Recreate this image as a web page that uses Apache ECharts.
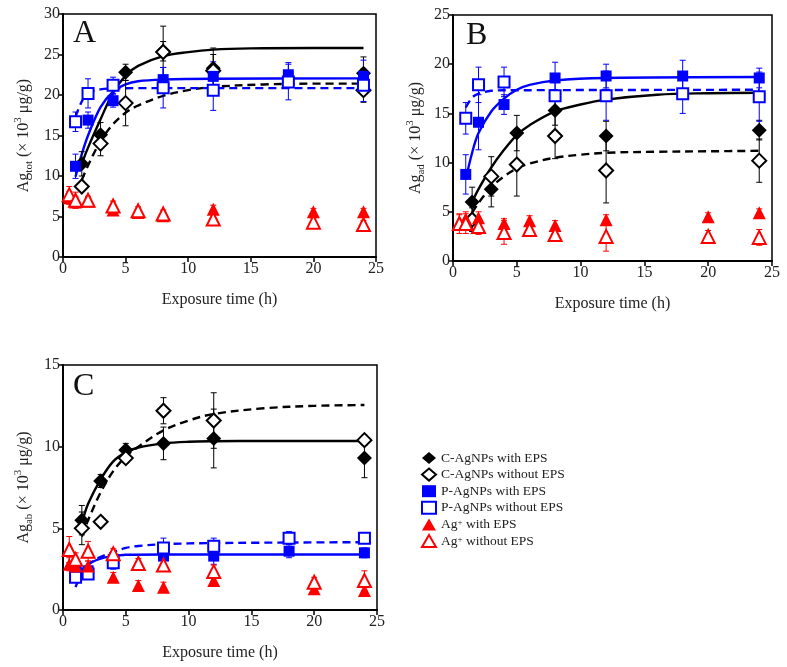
<!DOCTYPE html>
<html><head><meta charset="utf-8">
<script src="https://cdn.jsdelivr.net/npm/echarts@6.0.0/dist/echarts.min.js"></script>
<style>html,body{margin:0;padding:0;background:#fff}#c{width:787px;height:667px}</style>
</head><body><div id="c"></div><script>
// ---------- sampling times (h) ----------
const tC  = [1.5, 3, 5, 8, 12, 24];
const tP  = [1, 2, 4, 8, 12, 18, 24];
const tAg = [0.5, 1, 2, 4, 6, 8, 12, 20, 24];

// ---------- Panel A : Ag_tot ----------
const A_cWith        = [11.5, 15.1, 22.8, 25.4, 23.3, 22.7];
const A_cWith_err    = [1.5, 1.5, 1.0, 1.2, 2.5, 2.0];
const A_cWithout     = [8.7, 14.0, 19.0, 25.3, 23.0, 20.6];
const A_cWithout_err = [0.5, 1.5, 2.8, 3.2, 2.0, 1.5];
const A_pWith        = [11.2, 16.9, 19.3, 21.9, 22.3, 22.5, 22.3];
const A_pWith_err    = [1.5, 1.0, 0.8, 1.5, 1.8, 1.5, 2.0];
const A_pWithout     = [16.7, 20.2, 21.2, 20.9, 20.6, 21.6, 21.2];
const A_pWithout_err = [1.2, 1.8, 1.0, 2.5, 2.5, 2.2, 2.0];
const A_agWith       = [7.3, 6.8, 6.9, 5.8, 5.5, 5.1, 5.9, 5.6, 5.6];
const A_agWith_err   = [0.8, 0.6, 0.5, 0.5, 0.4, 0.4, 0.5, 0.4, 0.4];
const A_agWithout    = [7.7, 7.0, 7.0, 6.3, 5.7, 5.3, 4.7, 4.3, 4.0];
const A_agWithout_err= [1.0, 1.0, 0.5, 0.6, 0.5, 0.5, 0.8, 0.5, 0.5];
// fitted curves
const A_fit_cWith_t    = [1.5, 2, 3, 4, 5, 6, 8, 10, 12, 15, 20, 24];
const A_fit_cWith      = [11.5, 13.5, 17.0, 20.3, 22.4, 23.6, 24.8, 25.3, 25.6, 25.75, 25.8, 25.8];
const A_fit_cWithout_t = [1.5, 2, 3, 4, 5, 6, 8, 10, 12, 16, 20, 24];
const A_fit_cWithout   = [9.5, 11.3, 14.3, 16.4, 17.8, 18.7, 19.9, 20.6, 21.0, 21.3, 21.4, 21.4];
const A_fit_pWith_t    = [1, 1.5, 2, 3, 4, 5, 6, 8, 12, 24];
const A_fit_pWith      = [9.9, 12.7, 15.0, 18.5, 20.4, 21.3, 21.7, 21.9, 22.0, 22.05];
const A_fit_pWithout_t = [1, 1.5, 2, 3, 4, 6, 12, 24];
const A_fit_pWithout   = [17.3, 19.2, 20.2, 20.7, 20.8, 20.85, 20.85, 20.85];

// ---------- Panel B : Ag_ad ----------
const B_cWith        = [6.0, 7.3, 13.0, 15.3, 12.7, 13.3];
const B_cWith_err    = [1.5, 1.8, 1.8, 1.5, 1.5, 1.0];
const B_cWithout     = [4.2, 8.6, 9.8, 12.7, 9.2, 10.2];
const B_cWithout_err = [1.2, 2.0, 3.2, 2.3, 3.3, 2.2];
const B_pWith        = [8.8, 14.1, 15.9, 18.6, 18.8, 18.8, 18.6];
const B_pWith_err    = [2.0, 2.8, 1.0, 1.6, 1.2, 1.6, 1.0];
const B_pWithout     = [14.5, 17.9, 18.2, 16.8, 16.8, 17.0, 16.7];
const B_pWithout_err = [1.6, 1.8, 1.5, 1.5, 2.5, 2.0, 2.5];
const B_agWith       = [3.9, 4.3, 4.4, 3.8, 4.1, 3.6, 4.2, 4.5, 4.9];
const B_agWith_err   = [0.8, 0.7, 0.6, 0.5, 0.5, 0.5, 0.5, 0.4, 0.4];
const B_agWithout    = [3.8, 3.8, 3.5, 2.9, 3.2, 2.7, 2.5, 2.5, 2.4];
const B_agWithout_err= [1.0, 1.0, 0.8, 1.2, 0.5, 0.5, 1.5, 0.6, 0.8];
const B_fit_cWith_t    = [1.5, 2, 3, 4, 5, 6, 8, 10, 12, 16, 20, 24];
const B_fit_cWith      = [6.0, 7.3, 9.5, 11.3, 12.8, 13.8, 15.2, 15.9, 16.4, 16.9, 17.05, 17.1];
const B_fit_cWithout_t = [1.5, 2, 3, 4, 5, 6, 8, 10, 12, 16, 20, 24];
const B_fit_cWithout   = [4.9, 5.9, 7.5, 8.6, 9.4, 9.9, 10.5, 10.8, 11.0, 11.1, 11.15, 11.2];
const B_fit_pWith_t    = [1, 1.5, 2, 3, 4, 5, 6, 8, 12, 24];
const B_fit_pWith      = [8.3, 11.0, 13.0, 15.2, 16.5, 17.4, 17.9, 18.35, 18.6, 18.7];
const B_fit_pWithout_t = [1, 1.5, 2, 3, 4, 24];
const B_fit_pWithout   = [15.6, 16.6, 17.0, 17.3, 17.35, 17.4];

// ---------- Panel C : Ag_ab ----------
const C_cWith        = [5.5, 7.9, 9.8, 10.2, 10.5, 9.3];
const C_cWith_err    = [0.9, 0.4, 0.4, 1.0, 1.8, 1.2];
const C_cWithout     = [5.0, 5.4, 9.3, 12.2, 11.6, 10.4];
const C_cWithout_err = [1.0, 0.2, 0.3, 0.8, 1.7, 0.3];
const C_pWith        = [2.4, 2.4, 3.1, 3.3, 3.3, 3.6, 3.5];
const C_pWith_err    = [0.3, 0.3, 0.3, 0.5, 0.5, 0.4, 0.3];
const C_pWithout     = [2.0, 2.2, 2.9, 3.8, 3.9, 4.4, 4.4];
const C_pWithout_err = [0.3, 0.3, 0.4, 0.6, 0.5, 0.4, 0.3];
const C_agWith       = [2.8, 2.7, 2.7, 2.0, 1.5, 1.4, 1.8, 1.3, 1.2];
const C_agWith_err   = [0.4, 0.3, 0.3, 0.3, 0.3, 0.3, 0.3, 0.3, 0.3];
const C_agWithout    = [3.7, 3.1, 3.6, 3.45, 2.85, 2.75, 2.35, 1.7, 1.8];
const C_agWithout_err= [0.8, 0.4, 0.6, 0.3, 0.3, 0.3, 0.4, 0.3, 0.6];
const C_fit_cWith_t    = [1.5, 2, 3, 4, 5, 6, 8, 10, 12, 16, 24];
const C_fit_cWith      = [5.3, 6.5, 8.0, 9.1, 9.65, 9.95, 10.2, 10.3, 10.33, 10.35, 10.35];
const C_fit_cWithout_t = [1.5, 2, 3, 4, 5, 6, 8, 10, 12, 16, 20, 24];
const C_fit_cWithout   = [4.5, 5.5, 7.2, 8.5, 9.4, 10.0, 11.0, 11.6, 12.0, 12.35, 12.5, 12.55];
const C_fit_pWith_t    = [1, 1.5, 2, 3, 4, 5, 8, 24];
const C_fit_pWith      = [1.4, 2.3, 2.8, 3.15, 3.3, 3.38, 3.4, 3.4];
const C_fit_pWithout_t = [1, 1.5, 2, 3, 4, 5, 6, 8, 12, 24];
const C_fit_pWithout   = [2.3, 2.55, 2.8, 3.25, 3.55, 3.8, 3.92, 4.03, 4.1, 4.15];

// ---------- axes ----------
const yMax = [30, 25, 15];
const yNames = ['tot', 'ad', 'ab'];
const panelLabels = ['A', 'B', 'C'];
const xTitle = 'Exposure time (h)';

// ---------- build ----------
const FONT = 'Liberation Serif';
const BLACK = '#000000', BLUE = '#0000ff', RED = '#ff0000';
const seriesDefs = [
  {key:'cWith',     name:'C-AgNPs with EPS',     symbol:'diamond',       color:BLACK, size:15, t:tC},
  {key:'cWithout',  name:'C-AgNPs without EPS',  symbol:'emptyDiamond',  color:BLACK, size:14, t:tC},
  {key:'pWith',     name:'P-AgNPs with EPS',     symbol:'rect',          color:BLUE,  size:11, t:tP},
  {key:'pWithout',  name:'P-AgNPs without EPS',  symbol:'emptyRect',     color:BLUE,  size:11, t:tP},
  {key:'agWith',    name:'Ag+ with EPS',         symbol:'triangle',      color:RED,   size:13, t:tAg},
  {key:'agWithout', name:'Ag+ without EPS',      symbol:'emptyTriangle', color:RED,   size:13, t:tAg}
];
const fitDefs = [
  {key:'cWith', color:BLACK, dash:'solid'},
  {key:'cWithout', color:BLACK, dash:[8,5]},
  {key:'pWith', color:BLUE, dash:'solid'},
  {key:'pWithout', color:BLUE, dash:[8,5]}
];
const panelData = {
  A: {cWith:[A_cWith,A_cWith_err], cWithout:[A_cWithout,A_cWithout_err], pWith:[A_pWith,A_pWith_err], pWithout:[A_pWithout,A_pWithout_err], agWith:[A_agWith,A_agWith_err], agWithout:[A_agWithout,A_agWithout_err],
      fit:{cWith:[A_fit_cWith_t,A_fit_cWith], cWithout:[A_fit_cWithout_t,A_fit_cWithout], pWith:[A_fit_pWith_t,A_fit_pWith], pWithout:[A_fit_pWithout_t,A_fit_pWithout]}},
  B: {cWith:[B_cWith,B_cWith_err], cWithout:[B_cWithout,B_cWithout_err], pWith:[B_pWith,B_pWith_err], pWithout:[B_pWithout,B_pWithout_err], agWith:[B_agWith,B_agWith_err], agWithout:[B_agWithout,B_agWithout_err],
      fit:{cWith:[B_fit_cWith_t,B_fit_cWith], cWithout:[B_fit_cWithout_t,B_fit_cWithout], pWith:[B_fit_pWith_t,B_fit_pWith], pWithout:[B_fit_pWithout_t,B_fit_pWithout]}},
  C: {cWith:[C_cWith,C_cWith_err], cWithout:[C_cWithout,C_cWithout_err], pWith:[C_pWith,C_pWith_err], pWithout:[C_pWithout,C_pWithout_err], agWith:[C_agWith,C_agWith_err], agWithout:[C_agWithout,C_agWithout_err],
      fit:{cWith:[C_fit_cWith_t,C_fit_cWith], cWithout:[C_fit_cWithout_t,C_fit_cWithout], pWith:[C_fit_pWith_t,C_fit_pWith], pWithout:[C_fit_pWithout_t,C_fit_pWithout]}}
};

const grids = [
  {left:63, top:14, width:313, height:243},
  {left:453, top:15, width:319, height:246},
  {left:63, top:365, width:314, height:245}
];
const yNameGap = [28, 26, 28];

function renderErr(params, api) {
  const x = api.value(0), lo = api.value(1), hi = api.value(2);
  const p1 = api.coord([x, lo]), p2 = api.coord([x, hi]);
  const hw = 3;
  const style = {stroke: api.visual('color'), lineWidth: 1};
  return {type:'group', children:[
    {type:'line', shape:{x1:p1[0], y1:p1[1], x2:p2[0], y2:p2[1]}, style:style},
    {type:'line', shape:{x1:p1[0]-hw, y1:p1[1], x2:p1[0]+hw, y2:p1[1]}, style:style},
    {type:'line', shape:{x1:p2[0]-hw, y1:p2[1], x2:p2[0]+hw, y2:p2[1]}, style:style}
  ]};
}

const gridOpts = [], xAxes = [], yAxes = [], series = [], graphics = [];
const labelPos = [{left:73, top:18}, {left:466, top:20}, {left:73, top:371}];
['A','B','C'].forEach(function(p, gi) {
  gridOpts.push(Object.assign({show:true, borderColor:'#000', borderWidth:1.5, backgroundColor:'transparent'}, grids[gi]));
  xAxes.push({
    gridIndex:gi, type:'value', min:0, max:25, interval:5,
    axisLine:{show:true, onZero:false, lineStyle:{color:'#000', width:2}},
    axisTick:{show:true, length:5, lineStyle:{color:'#000', width:1.5}},
    axisLabel:{color:'#222', fontFamily:FONT, fontSize:16, margin:4},
    splitLine:{show:false},
    name:xTitle, nameLocation:'middle', nameGap:35,
    nameTextStyle:{color:'#222', fontFamily:FONT, fontSize:16}
  });
  yAxes.push({
    gridIndex:gi, type:'value', min:0, max:yMax[gi], interval:5,
    axisLine:{show:true, onZero:false, lineStyle:{color:'#000', width:2}},
    axisTick:{show:true, length:5, lineStyle:{color:'#000', width:1.5}},
    axisLabel:{color:'#222', fontFamily:FONT, fontSize:16, margin:3},
    splitLine:{show:false},
    name:'{m|Ag}{s|' + yNames[gi] + '}{m| (× 10}{p|3}{m| μg/g)}',
    nameLocation:'middle', nameGap:yNameGap[gi],
    nameTextStyle:{color:'#222', fontFamily:FONT, fontSize:16,
      rich:{
        m:{fontFamily:FONT, fontSize:16, color:'#222', lineHeight:22, verticalAlign:'middle'},
        s:{fontFamily:FONT, fontSize:11, color:'#222', lineHeight:11, verticalAlign:'bottom'},
        p:{fontFamily:FONT, fontSize:11, color:'#222', lineHeight:11, verticalAlign:'top'}
      }}
  });
  const d = panelData[p];
  // fitted curves
  fitDefs.forEach(function(f) {
    const tt = d.fit[f.key][0], vv = d.fit[f.key][1];
    series.push({type:'line', xAxisIndex:gi, yAxisIndex:gi, data: tt.map(function(t,i){return [t, vv[i]];}),
      symbol:'none', showSymbol:false, smooth:0.35, silent:true, z:2,
      lineStyle:{color:f.color, width:2.4, type:f.dash}});
  });
  // error bars + points
  seriesDefs.forEach(function(s) {
    const vals = d[s.key][0], errs = d[s.key][1];
    series.push({type:'custom', xAxisIndex:gi, yAxisIndex:gi, renderItem:renderErr, silent:true, z:3,
      itemStyle:{color:s.color}, encode:{x:0, y:[1,2]},
      data: s.t.map(function(t,i){return [t, vals[i]-errs[i], vals[i]+errs[i]];})});
    series.push({type:'scatter', name:s.name, xAxisIndex:gi, yAxisIndex:gi, symbol:s.symbol, symbolSize:s.size, z:4,
      itemStyle:{color:s.color, borderColor:s.color, borderWidth: s.symbol.indexOf('empty')===0 ? 1.7 : 0, opacity:1},
      data: s.t.map(function(t,i){return [t, vals[i]];})});
  });
  graphics.push({type:'text', left:labelPos[gi].left, top:labelPos[gi].top,
    style:{text:panelLabels[gi], fontFamily:FONT, fontSize:32, fill:'#111'}});
});

const chart = echarts.init(document.getElementById('c'), null, {renderer:'canvas'});
chart.setOption({
  animation:false,
  backgroundColor:'#ffffff',
  grid:gridOpts, xAxis:xAxes, yAxis:yAxes, series:series, graphic:graphics,
  legend:{
    data: seriesDefs.map(function(s){return s.name;}),
    orient:'vertical', left:416, top:446, itemWidth:14, itemHeight:12, itemGap:2.6,
    selectedMode:false,
    textStyle:{fontFamily:FONT, fontSize:13.5, color:'#222', lineHeight:12,
      rich:{n:{fontFamily:FONT, fontSize:13.5, color:'#222', lineHeight:12}, s:{fontFamily:FONT, fontSize:9, color:'#222', lineHeight:9, verticalAlign:'top'}}},
    formatter:function(name){
      if (name.indexOf('Ag+') === 0) return '{n|Ag}{s|+}{n|' + name.slice(3) + '}';
      return '{n|' + name + '}';
    }
  }
});
</script></body></html>
